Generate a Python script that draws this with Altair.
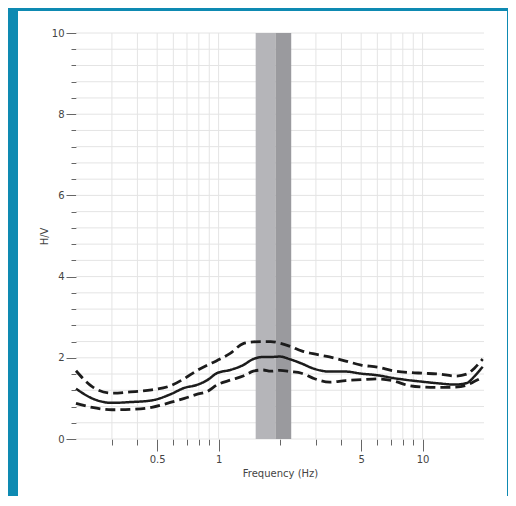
import altair as alt
import pandas as pd

# ---- data ----
freq = [0.2, 0.24, 0.3, 0.37, 0.47, 0.58, 0.68, 0.78, 0.88, 0.98, 1.14, 1.32, 1.48, 1.65,
        1.8, 2.0, 2.25, 2.55, 2.9, 3.5, 4.2, 5.0, 6.0, 7.2, 8.5, 10, 12, 14.5, 16.5, 18, 19.7]
hv_mean = [1.24, 1.00, 0.89, 0.91, 0.95, 1.10, 1.26, 1.33, 1.45, 1.62, 1.70, 1.82, 1.97, 2.02,
           2.02, 2.03, 1.96, 1.86, 1.74, 1.66, 1.66, 1.61, 1.57, 1.50, 1.45, 1.41, 1.37, 1.34,
           1.38, 1.55, 1.78]
hv_upper = [1.68, 1.29, 1.13, 1.16, 1.21, 1.31, 1.49, 1.68, 1.82, 1.93, 2.11, 2.35, 2.39, 2.40,
            2.40, 2.36, 2.28, 2.17, 2.10, 2.02, 1.92, 1.82, 1.77, 1.68, 1.64, 1.62, 1.60, 1.55,
            1.60, 1.75, 1.97]
hv_lower = [0.88, 0.78, 0.72, 0.73, 0.78, 0.90, 1.00, 1.10, 1.17, 1.33, 1.45, 1.55, 1.67, 1.70,
            1.67, 1.69, 1.66, 1.62, 1.50, 1.40, 1.44, 1.46, 1.48, 1.43, 1.32, 1.28, 1.27, 1.28,
            1.33, 1.42, 1.52]

band_lo = [1.52, 1.90]
band_hi = [1.90, 2.27]
band_name = ["f0 - sd", "f0 + sd"]
band_colors = ["#B5B5B9", "#9A9A9E"]

x_ticks = [0.3, 0.4, 0.5, 0.6, 0.7, 0.8, 0.9, 1, 2, 3, 4, 5, 6, 7, 8, 9, 10]
x_major = [0.5, 1, 5, 10]
y_ticks = [round(i * 0.4, 1) for i in range(26)]

TEAL = "#0E8AB2"
FONT = "DejaVu Sans"
GRID = "#e4e4e4"

df = pd.DataFrame({"freq": freq, "mean": hv_mean, "upper": hv_upper, "lower": hv_lower})
bands = pd.DataFrame({"lo": band_lo, "hi": band_hi, "name": band_name,
                      "y0": [0, 0], "y1": [10, 10]})
xgrid = pd.DataFrame({"gx": x_ticks})
ygrid = pd.DataFrame({"gy": y_ticks})

major_test = "indexof(" + str(x_major) + ", datum.value) >= 0"

xscale = alt.Scale(type="log", domain=[0.2, 20], nice=False)
yscale = alt.Scale(domain=[0, 10], nice=False)

xaxis = alt.Axis(
    values=x_ticks, tickCount=100, labelExpr=major_test + " ? '' + datum.value : ''",
    tickSize={"condition": {"test": major_test, "value": 12}, "value": 6},
    domain=False, grid=False,
    tickColor="#666", tickWidth=1, labelOverlap=False, labelFlush=False,
    labelFont=FONT, labelFontSize=10, labelColor="#444", labelPadding=3,
    title="Frequency (Hz)", titleFont=FONT, titleFontSize=10, titleFontWeight="normal",
    titleColor="#444", titleY=29, titleBaseline="top",
)
yaxis = alt.Axis(
    values=y_ticks, tickCount=100, labelExpr="datum.value % 2 == 0 ? '' + datum.value : ''",
    tickSize={"condition": {"test": "datum.value % 2 == 0", "value": 10}, "value": 5},
    domain=False, grid=False,
    tickColor="#666", tickWidth=1, labelOverlap=False, labelFlush=False,
    labelFont=FONT, labelFontSize=10, labelColor="#444", labelPadding=2,
    title="H/V", titleFont=FONT, titleFontSize=10, titleFontWeight="normal",
    titleColor="#444", titleX=-32, titleBaseline="middle",
)

xgrid_layer = alt.Chart(xgrid).mark_rule(color=GRID, strokeWidth=1).encode(
    x=alt.X("gx:Q", scale=xscale, axis=xaxis))
ygrid_layer = alt.Chart(ygrid).mark_rule(color=GRID, strokeWidth=1).encode(
    y=alt.Y("gy:Q", scale=yscale, axis=yaxis))

band_layer = alt.Chart(bands).mark_rect().encode(
    x=alt.X("lo:Q", scale=xscale),
    x2="hi:Q",
    y=alt.Y("y0:Q", scale=yscale),
    y2="y1:Q",
    color=alt.Color("name:N", scale=alt.Scale(domain=band_name, range=band_colors), legend=None),
)

def line(col, dash, width):
    return alt.Chart(df).mark_line(
        color="#1c1c1c", strokeWidth=width, strokeDash=dash, interpolate="monotone"
    ).encode(
        x=alt.X("freq:Q", scale=xscale),
        y=alt.Y(col + ":Q", scale=yscale),
    )

upper = line("upper", [10, 5], 2.8)
lower = line("lower", [10, 5], 2.8)
mean = line("mean", [1, 0], 2.5)

one = pd.DataFrame({"a": [0]})
frame_left = alt.Chart(one).mark_rect(color=TEAL).encode(
    x=alt.value(-68), x2=alt.value(-58), y=alt.value(-25), y2=alt.value(463))
frame_top = alt.Chart(one).mark_rect(color=TEAL).encode(
    x=alt.value(-68), x2=alt.value(432), y=alt.value(-25), y2=alt.value(-22))
frame_right = alt.Chart(one).mark_rect(color=TEAL).encode(
    x=alt.value(431), x2=alt.value(432), y=alt.value(-25), y2=alt.value(463))

chart = alt.layer(
    xgrid_layer, ygrid_layer, band_layer, upper, lower, mean,
    frame_left, frame_top, frame_right
).properties(
    width=408, height=406,
    autosize=alt.AutoSizeParams(type="none"),
    padding={"left": 68, "top": 25, "right": 24, "bottom": 57},
    background="white",
).configure_view(stroke=None)

chart.save("out.html", embed_options={"renderer": "svg", "actions": False})
